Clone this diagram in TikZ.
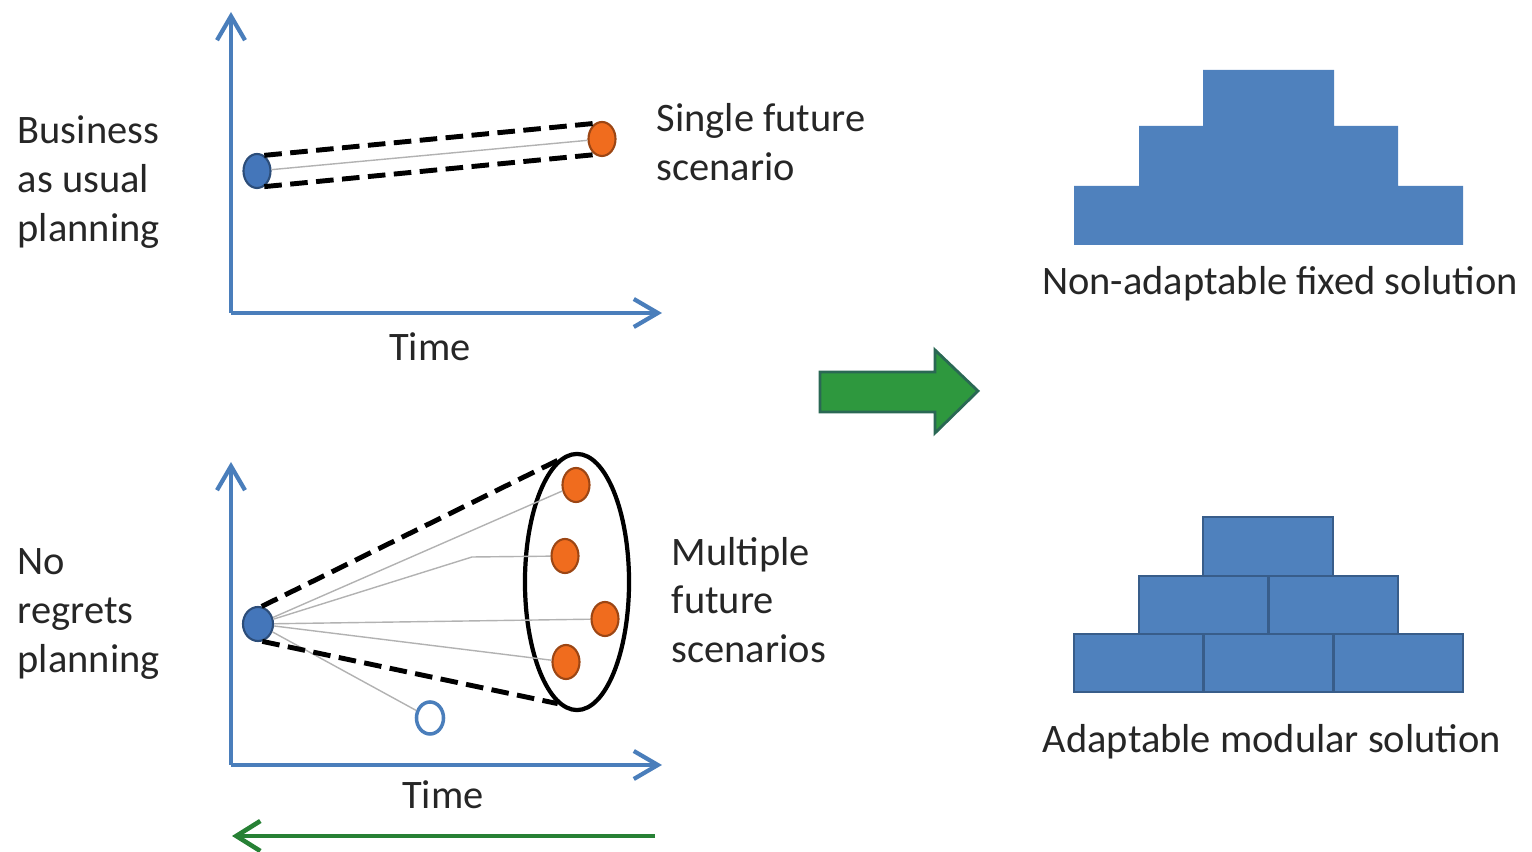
\documentclass[tikz,border=0pt]{standalone}
\usepackage{fontspec}
\setmainfont{Carlito}
\usetikzlibrary{arrows.meta,shapes.geometric,positioning}

\definecolor{axisblue}{RGB}{74,126,187}
\definecolor{dotblue}{RGB}{68,118,186}
\definecolor{dotorange}{RGB}{240,108,30}
\definecolor{brickblue}{RGB}{79,129,189}
\definecolor{brickedge}{RGB}{56,93,138}
\definecolor{arrowgreen}{RGB}{46,152,62}
\definecolor{arrowedge}{RGB}{42,104,84}

\begin{document}
\begin{tikzpicture}[x=0.01cm, y=-0.01cm,
    font=\fontsize{11.5}{13.9}\selectfont,
    axis/.style={axisblue, line width=1.2pt, -{Straight Barb[length=2.4mm,width=2.8mm,line width=1.2pt]}},
    scendot/.style={ellipse, draw=#1!65!black, fill=#1, line width=0.6pt,
        minimum width=0.27cm, minimum height=0.34cm, inner sep=0pt},
    cone/.style={line width=1.4pt, dash pattern=on 5pt off 2.4pt},
    trail/.style={gray!60, line width=0.4pt},
    lbl/.style={align=left, inner sep=0pt, text=black!85},
    brick/.style={fill=brickblue, draw=brickedge, line width=0.7pt}]
    \useasboundingbox (0,0) rectangle (1532,852);

    % Business as usual: one path to one future
    \coordinate (bau-o) at (231,313);
    \coordinate (bau-y) at (231,12);
    \coordinate (bau-x) at (662,313);
    \draw[axis] (bau-o) -- (bau-y);
    \draw[axis] (bau-o) -- (bau-x);
    \node[lbl] (time1) at (430,347) {Time};
    \node[lbl, anchor=west] (bau) at (17,182) {Business\\as usual\\planning};

    \node[scendot=dotblue] (now1) at (257,171) {};
    \node[scendot=dotorange] (fut1) at (602,139) {};
    \draw[trail] (now1) -- (fut1);
    \draw[cone] (now1.65) -- (fut1.115);
    \draw[cone] (now1.-65) -- (fut1.-115);
    \node[lbl, anchor=west] (single) at (656,142) {Single future\\scenario};

    % No regrets: many futures
    \coordinate (nr-o) at (231,765);
    \coordinate (nr-y) at (231,462);
    \coordinate (nr-x) at (662,765);
    \draw[axis] (nr-o) -- (nr-y);
    \draw[axis] (nr-o) -- (nr-x);
    \node[lbl] (time2) at (443,795) {Time};
    \node[lbl, anchor=west] (nr) at (17,614) {No\\regrets\\planning};

    \node[draw, ellipse, line width=1.2pt, minimum width=1.04cm, minimum height=2.56cm,
        inner sep=0pt] (scn) at (577,582) {};
    \node[scendot=dotblue, minimum width=0.3cm] (now2) at (258,624) {};
    \node[scendot=dotorange] (fa) at (576,485) {};
    \node[scendot=dotorange] (fb) at (565,556) {};
    \node[scendot=dotorange] (fc) at (605,619) {};
    \node[scendot=dotorange] (fd) at (566,662) {};
    \node[ellipse, draw=axisblue, fill=white, line width=1pt, minimum width=0.27cm,
        minimum height=0.32cm, inner sep=0pt] (miss) at (430,718) {};
    \coordinate (kink) at (472,557);

    \draw[trail] (now2) -- (fa);
    \draw[trail] (now2) -- (kink) -- (fb);
    \draw[trail] (now2) -- (fc);
    \draw[trail] (now2) -- (fd);
    \draw[trail] (now2) -- (miss);
    \draw[cone] (now2.78) -- (scn.99);
    \draw[cone] (now2.-76) -- (scn.261);
    \node[lbl, anchor=west] (multi) at (671,600) {Multiple\\future\\scenarios};

    % arrows between the panels
    \draw[fill=arrowgreen, draw=arrowedge, line width=0.8pt]
        (820,372) -- (935,372) -- (935,350) -- (978,391) -- (935,433) -- (935,412) -- (820,412) -- cycle;
    \coordinate (back-from) at (655,836);
    \coordinate (back-to) at (232,836);
    \draw[arrowgreen!85!black, line width=1.3pt,
        -{Straight Barb[length=2.4mm,width=3mm,line width=1.3pt]}] (back-from) -- (back-to);

    % fixed solution, one solid block
    \fill[brickblue] (1074,245) -- (1074,186) -- (1139,186) -- (1139,126) -- (1203,126)
        -- (1203,70) -- (1334,70) -- (1334,126) -- (1398,126) -- (1398,186) -- (1463,186)
        -- (1463,245) -- cycle;
    \node[lbl] (fixed) at (1280,284) {Non-adaptable fixed solution};

    % modular solution, separate bricks
    \draw[brick] (1203,517) rectangle (1333,576);
    \foreach \x in {1139,1269}
        \draw[brick] (\x,576) rectangle ++(129,58);
    \foreach \x in {1074,1204,1334}
        \draw[brick] (\x,634) rectangle ++(129,58);
    \node[lbl] (modular) at (1272,742) {Adaptable modular solution};
\end{tikzpicture}
\end{document}
